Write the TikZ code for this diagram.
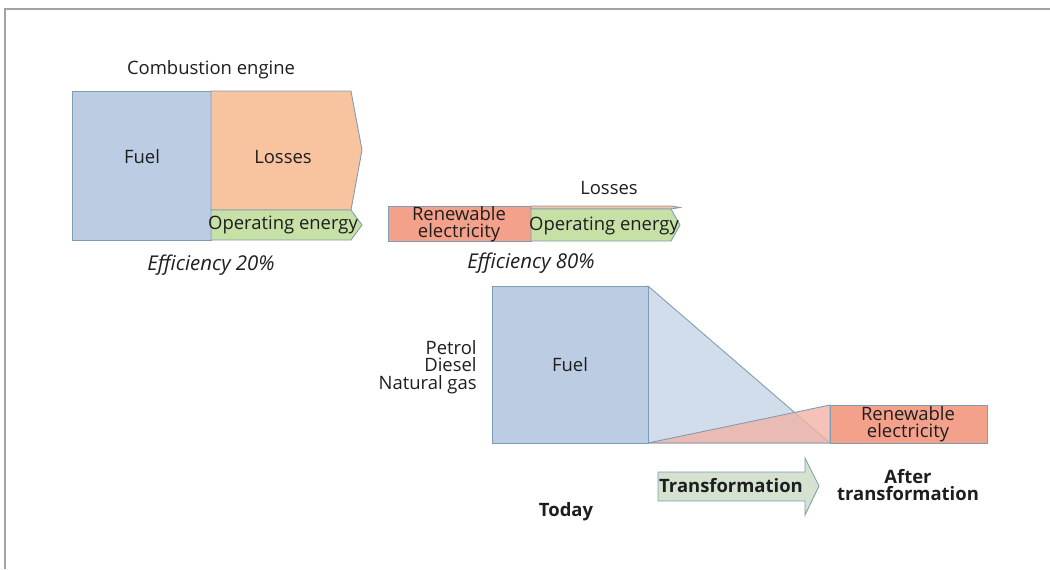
\documentclass[tikz,border=0pt]{standalone}
\usepackage{fontspec}
\setmainfont{Open Sans}
\definecolor{framegray}{HTML}{A3A3A3}
\definecolor{edgeblue}{HTML}{7E9CB2}
\definecolor{txtgray}{HTML}{1E1E1E}
\definecolor{fuelblue}{HTML}{BCCDE3}
\definecolor{lossorange}{HTML}{F8C4A0}
\definecolor{opgreen}{HTML}{C6E0A6}
\definecolor{renred}{HTML}{F4A18B}
\definecolor{triblue}{HTML}{D2DDEC}
\definecolor{trired}{HTML}{F1B3A8}
\definecolor{arrowgreen}{HTML}{D4E2CF}

\tikzset{
  lbl/.style={font=\fontsize{10.5}{10}\selectfont, text=txtgray, inner sep=0pt, align=center},
  boldlbl/.style={lbl, font=\fontsize{10.5}{10}\selectfont\bfseries},
  efflbl/.style={lbl, font=\fontsize{11.6}{11}\selectfont\itshape},
  boxline/.style={draw=edgeblue, line width=0.5pt},
}

\begin{document}
\begin{tikzpicture}[x=0.02cm,y=-0.02cm]
  \useasboundingbox (0,0) rectangle (1050,569);
  \draw [framegray, line width=0.9pt] (5,569) -- (5,9) -- (1050,9);
  % combustion engine
  \filldraw [boxline, fill=fuelblue] (72,91) rectangle (211,240);
  \filldraw [boxline, fill=lossorange] (211,91) -- (351,91) -- (362,150) -- (351,210) -- (211,210) -- cycle;
  \filldraw [boxline, fill=opgreen] (211,210) -- (351,210) -- (362,225) -- (351,240) -- (211,240) -- cycle;
  \node [lbl] (ceTitle) at (211,70) {Combustion engine};
  \node [lbl] (ceFuel) at (142,157) {Fuel};
  \node [lbl] (ceLoss) at (283,157) {Losses};
  \node [lbl] (ceOp) at (283,225) {Operating energy};
  \node [efflbl] (ceEff) at (211,265) {Efficiency 20\%};
  % electric drive
  \filldraw [boxline, fill=renred] (388,206) rectangle (531,241);
  \filldraw [boxline, fill=lossorange] (531,206) -- (671,206) -- (680,207.5) -- (671,209) -- (531,209) -- cycle;
  \filldraw [boxline, fill=opgreen] (531,209) -- (671,209) -- (680,225) -- (671,241) -- (531,241) -- cycle;
  \node [lbl] (evLoss) at (609,188) {Losses};
  \node [lbl] (evRen) at (459,224) {Renewable\\electricity};
  \node [lbl] (evOp) at (604,226) {Operating energy};
  \node [efflbl] (evEff) at (531,263) {Efficiency 80\%};
  % today vs after transformation
  \filldraw [boxline, fill=triblue] (648,286) -- (830,443) -- (648,443) -- cycle;
  \filldraw [boxline, fill=trired, fill opacity=0.8] (648,443) -- (830,405) -- (830,443) -- cycle;
  \filldraw [boxline, fill=fuelblue] (492,286) rectangle (648,443);
  \filldraw [boxline, fill=renred] (830,405) rectangle (987,443);
  \node [lbl] (bigFuel) at (570,365) {Fuel};
  \node [lbl, align=right, anchor=east] (fuelKinds) at (477,367) {Petrol\\Diesel\\Natural gas};
  \node [lbl] (afterRen) at (908,424) {Renewable\\electricity};
  \filldraw [boxline, fill=arrowgreen] (658,472) -- (805,472) -- (805,458) -- (819,486) -- (805,515) -- (805,501) -- (658,501) -- cycle;
  \node [boldlbl] (today) at (566,512) {Today};
  \node [boldlbl] (trans) at (731,486) {Transformation};
  \node [boldlbl] (after) at (908,485) {After\\transformation};
\end{tikzpicture}
\end{document}
